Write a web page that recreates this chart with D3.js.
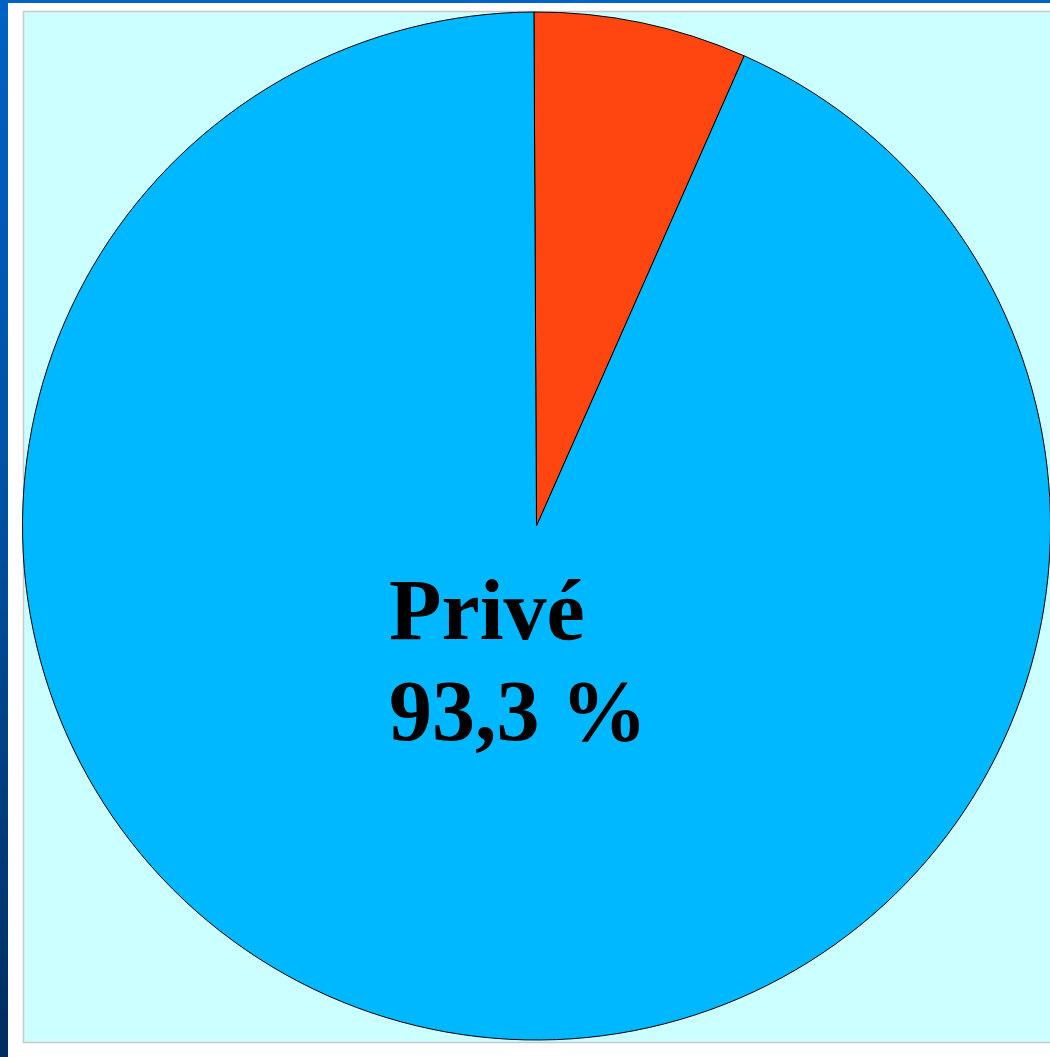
<!DOCTYPE html>
<html><head><meta charset="utf-8">
<script src="https://cdn.jsdelivr.net/npm/d3@7"></script>
<style>html,body{margin:0;padding:0;background:#fff;overflow:hidden}</style>
</head><body>
<svg id="c" width="1050" height="1057"></svg>
<script>
const categories = ["Public", "Privé"];
const values = [6.7, 93.3];
const labelLines = ["Privé", "93,3 %"];
const colors = ["#ff4510", "#00b8ff"];

const svg = d3.select("#c");
const defs = svg.append("defs");
const g1 = defs.append("linearGradient").attr("id","side").attr("x1",0).attr("y1",0).attr("x2",0).attr("y2",1);
g1.append("stop").attr("offset","0%").attr("stop-color","#0062c4");
g1.append("stop").attr("offset","50%").attr("stop-color","#0050a0");
g1.append("stop").attr("offset","100%").attr("stop-color","#002d5e");
svg.append("rect").attr("x",0).attr("y",0).attr("width",1050).attr("height",3).attr("fill","#0062c4");
svg.append("rect").attr("x",0).attr("y",0).attr("width",8).attr("height",1057).attr("fill","url(#side)");

// panel
svg.append("rect").attr("x",23.5).attr("y",11.5).attr("width",1040).attr("height",1031)
  .attr("fill","#ccffff").attr("stroke","#c8c8c8").attr("stroke-width",1.5);

const cx = 536.5, cy = 526, r = 514;
const pie = d3.pie().sort(null).startAngle(-0.005).endAngle(2*Math.PI - 0.005);
const arc = d3.arc().innerRadius(0).outerRadius(r);
const gp = svg.append("g").attr("transform",`translate(${cx},${cy})`);
gp.selectAll("path").data(pie(values)).join("path")
  .attr("d",arc).attr("fill",(d,i)=>colors[i]).attr("stroke","#000").attr("stroke-width",1);

const t = svg.append("text").attr("x",389).attr("y",639)
  .attr("font-family","Liberation Serif, Times New Roman, serif").attr("font-weight","bold")
  .attr("font-size",86).attr("fill","#000");
t.selectAll("tspan").data(labelLines).join("tspan")
  .attr("x",389).attr("dy",(d,i)=>i===0?0:101).text(d=>d);
</script>
</body></html>
